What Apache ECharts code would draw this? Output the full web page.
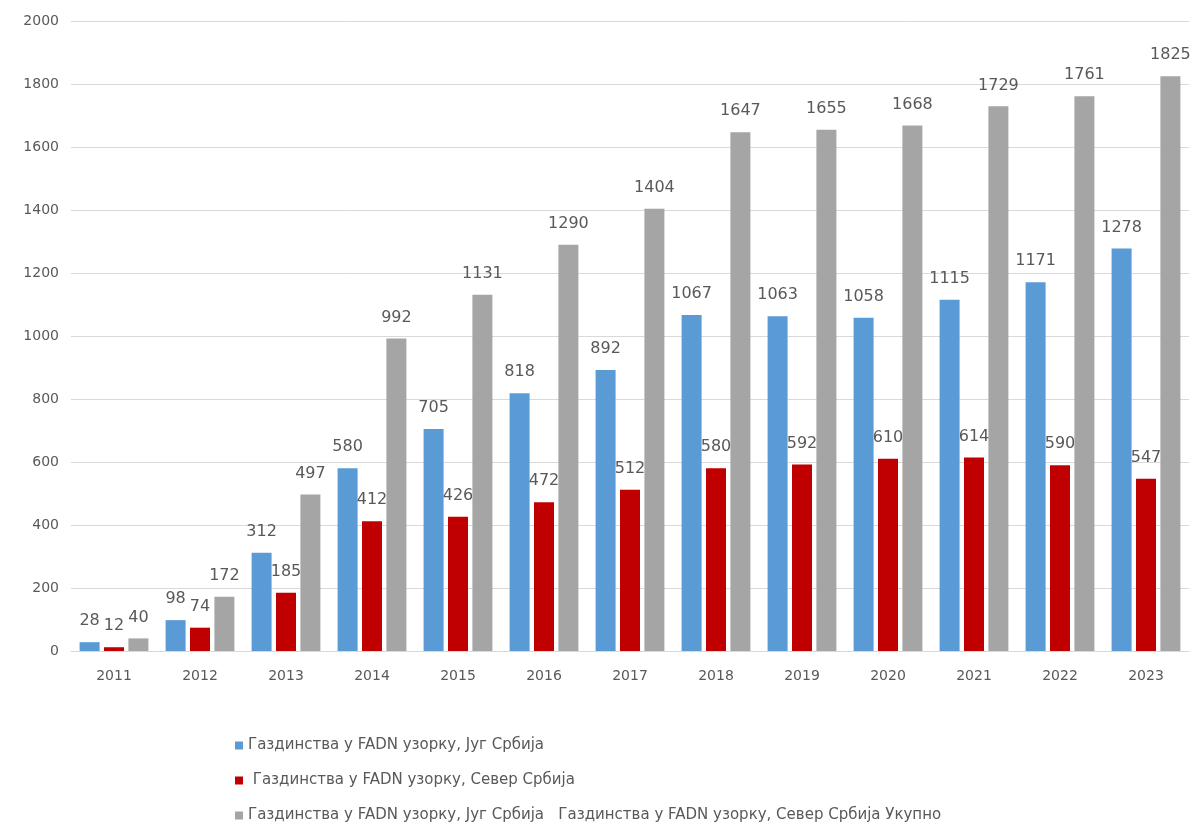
<!DOCTYPE html>
<html>
<head>
<meta charset="utf-8">
<script src="https://cdn.jsdelivr.net/npm/echarts@6/dist/echarts.min.js"></script>
<style>html,body{margin:0;padding:0;background:#fff}#c{width:1194px;height:832px}</style>
</head>
<body>
<div id="c"></div>
<script>
var years = ['2011','2012','2013','2014','2015','2016','2017','2018','2019','2020','2021','2022','2023'];
var south = [28,98,312,580,705,818,892,1067,1063,1058,1115,1171,1278];
var north = [12,74,185,412,426,472,512,580,592,610,614,590,547];
var total = [40,172,497,992,1131,1290,1404,1647,1655,1668,1729,1761,1825];
var seriesNames = [
  'Газдинства у FADN узорку, Југ Србија',
  ' Газдинства у FADN узорку, Север Србија',
  'Газдинства у FADN узорку, Југ Србија   Газдинства у FADN узорку, Север Србија Укупно'
];
var yTicks = {min:0, max:2000, interval:200};

var FONT = '"DejaVu Sans", "Open Sans", sans-serif';
var chart = echarts.init(document.getElementById('c'));
function lbl(){ return {show:true, position:'top', distance:13, color:'#595959', fontSize:16, fontFamily:FONT}; }
chart.setOption({
  animation:false,
  textStyle:{fontFamily:FONT},
  grid:{left:71, right:5, top:21, bottom:181, containLabel:false},
  legend:{
    orient:'vertical', left:230, top:733, itemGap:20,
    itemWidth:8, itemHeight:8, icon:'rect',
    textStyle:{color:'#595959', fontSize:15, fontFamily:FONT}
  },
  xAxis:{
    type:'category', data:years,
    axisLine:{show:true, lineStyle:{color:'#d9d9d9'}},
    axisTick:{show:false},
    axisLabel:{color:'#595959', fontSize:14, margin:18, fontFamily:FONT}
  },
  yAxis:{
    type:'value', min:yTicks.min, max:yTicks.max, interval:yTicks.interval,
    axisLine:{show:false}, axisTick:{show:false},
    splitLine:{lineStyle:{color:'#d9d9d9'}},
    axisLabel:{color:'#595959', fontSize:14, margin:12, fontFamily:FONT, formatter:function(v){return String(v);}}
  },
  series:[
    {name:seriesNames[0], type:'bar', data:south, barWidth:20, barGap:'22%', itemStyle:{color:'#5b9bd5'}, label:lbl()},
    {name:seriesNames[1], type:'bar', data:north, barWidth:20, barGap:'22%', itemStyle:{color:'#c00000'}, label:lbl()},
    {name:seriesNames[2], type:'bar', data:total, barWidth:20, barGap:'22%', itemStyle:{color:'#a5a5a5'}, label:lbl()}
  ]
});
</script>
</body>
</html>
